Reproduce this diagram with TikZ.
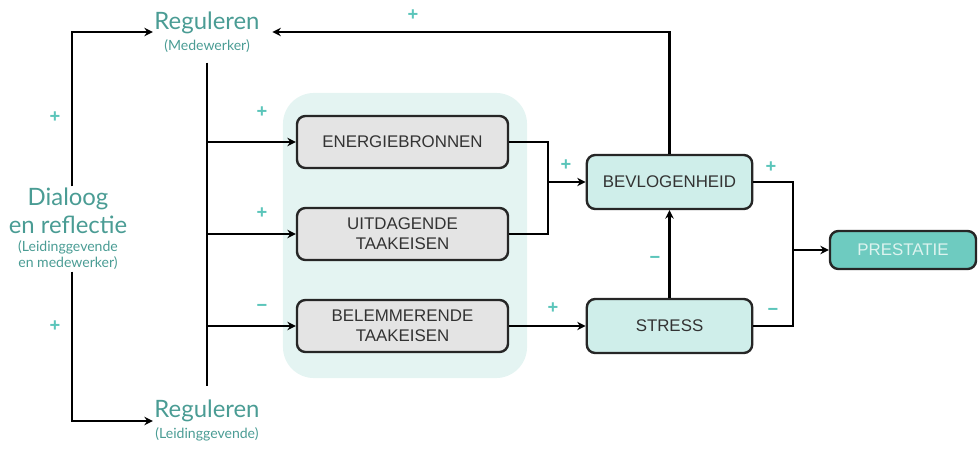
\documentclass[tikz,border=0pt]{standalone}
\usepackage{fontspec}
\setmainfont{Liberation Sans}
\newfontfamily\handfont{Lato}
\usetikzlibrary{positioning,calc,arrows.meta}
\definecolor{tealtekst}{HTML}{4A9C94}
\definecolor{tealteken}{HTML}{5BC5BA}
\definecolor{tealveld}{HTML}{E4F4F2}
\definecolor{tealblok}{HTML}{CFEEEA}
\definecolor{grijsblok}{HTML}{E4E4E4}
\definecolor{tealprest}{HTML}{6ECBC0}
\definecolor{tealprestt}{HTML}{DDF3EF}

\begin{document}
\begin{tikzpicture}[x=0.025cm,y=-0.025cm]
	% stijlen
	\tikzstyle{blok} = [rectangle, rounded corners=6pt, line width=1.7pt, draw=black!85, fill=grijsblok, minimum width=5.275cm, minimum height=1.3cm, text width=5cm, align=center, font=\fontsize{12}{14}\selectfont, text=black!80]	% taakkenmerken
	\tikzstyle{uitkomst} = [blok, fill=tealblok, minimum width=4.125cm, text width=3.9cm, minimum height=1.35cm]	% bevlogenheid, stress
	\tikzstyle{titel} = [font=\handfont\fontsize{17}{20}\selectfont, text=tealtekst, inner sep=1pt, align=center]
	\tikzstyle{sub} = [font=\handfont\fontsize{10}{12}\selectfont, text=tealtekst, inner sep=1pt, align=center]
	\tikzstyle{teken} = [font=\bfseries\fontsize{13}{13}\selectfont, text=tealteken, inner sep=0pt]
	\tikzstyle{arrow} = [line width=1.6pt, -{Stealth[length=6pt,width=6pt]}]
	\tikzstyle{lijn} = [line width=1.6pt]
	\useasboundingbox (0,0) rectangle (980,448);

	% achtergrondveld
	\node (veld) [rectangle, rounded corners=22pt, fill=tealveld, minimum width=6.1cm, minimum height=7.125cm] at (405,235.5) {};

	% blokken
	\node (energie) [blok] at (402.5,142) {ENERGIEBRONNEN};
	\node (uitdag) [blok] at (402.5,234) {UITDAGENDE\\TAAKEISEN};
	\node (belem) [blok] at (402.5,326) {BELEMMERENDE\\TAAKEISEN};
	\node (bevl) [uitkomst] at (669.5,182) {BEVLOGENHEID};
	\node (stress) [uitkomst] at (669.5,326) {STRESS};
	\node (prest) [blok, fill=tealprest, text=tealprestt, minimum width=3.65cm, text width=3.4cm, minimum height=0.95cm] at (903,250) {PRESTATIE};

	% handgeschreven teksten
	\node (regm) [titel, anchor=base] at (207,29) {Reguleren};
	\node (regmsub) [sub, below=2pt of regm] {(Medewerker)};
	\node (regl) [titel, anchor=base] at (207,417) {Reguleren};
	\node (reglsub) [sub, below=2pt of regl] {(Leidinggevende)};
	\node (dlg) [titel] at (68,211) {Dialoog\\en reflectie};
	\node (dlgsub) [sub, below=2pt of dlg] {(Leidinggevende\\en medewerker)};

	% hulppunten
	\coordinate (hoekb) at (72,32);
	\coordinate (hoeko) at (72,421);
	\coordinate (samen) at (548,182);
	\coordinate (knoop) at (793,250);

	% verbindingen
	\draw [arrow] (dlg.north -| hoekb) |- (regm.west |- hoekb);
	\draw [arrow] (dlgsub.south -| hoekb) |- (regl.west |- hoeko);
	\draw [arrow] (bevl.north) |- ([xshift=8pt]regm.east |- hoekb);
	\draw [lijn, shorten <=6pt, shorten >=8pt] (regmsub.south) -- (regl.north);
	\draw [arrow] (energie.west -| regmsub) -- (energie.west);
	\draw [arrow] (uitdag.west -| regmsub) -- (uitdag.west);
	\draw [arrow] (belem.west -| regmsub) -- (belem.west);
	\draw [lijn] (energie.east) -| (samen);
	\draw [lijn] (uitdag.east) -| (samen);
	\draw [arrow] (samen) -- (bevl.west);
	\draw [arrow] (belem.east) -- (stress.west);
	\draw [arrow] (stress.north) -- (bevl.south);
	\draw [lijn] (bevl.east) -| (knoop);
	\draw [lijn] (stress.east) -| (knoop);
	\draw [arrow] (knoop) -- (prest.west);

	% tekens
	\node (t1) [teken] at (55,117) {+};
	\node (t2) [teken] at (55,326) {+};
	\node (t3) [teken] at (262,112) {+};
	\node (t4) [teken] at (262,213) {+};
	\node (t5) [teken] at (262,308) {−};
	\node (t6) [teken] at (413,15) {+};
	\node (t7) [teken] at (566,165) {+};
	\node (t8) [teken] at (553,308) {+};
	\node (t9) [teken] at (655,260) {−};
	\node (t10) [teken] at (771,167) {+};
	\node (t11) [teken] at (773,312) {−};
\end{tikzpicture}
\end{document}
